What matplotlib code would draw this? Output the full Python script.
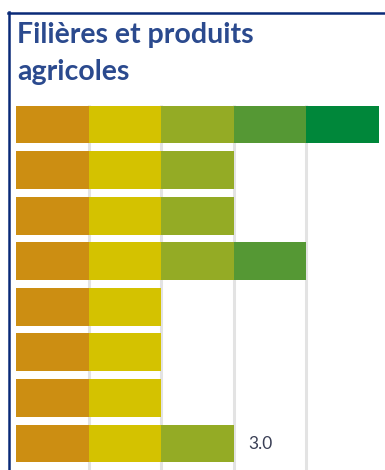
import matplotlib.pyplot as plt
from matplotlib.lines import Line2D

# levels reached per row (each level drawn as a unit-wide segment)
rows = ['r1', 'r2', 'r3', 'r4', 'r5', 'r6', 'r7', 'r8']
values = [5, 3, 3, 4, 2, 2, 2, 3]
value_labels = [None, None, None, None, None, None, None, '3.0']
level_colors = ['#CC8E12', '#D4C200', '#94AB25', '#559834', '#00873A']

title = 'Filières et produits\nagricoles'

W, H = 385, 470
fig = plt.figure(figsize=(W / 100, H / 100), dpi=100)

# axes placed in pixels: left edge of bars at x=16, 1 unit ~ 72.6 px
x0, x1 = 16, 385
y_top, y_bot = 100, 470
ax = fig.add_axes([x0 / W, 1 - y_bot / H, (x1 - x0) / W, (y_bot - y_top) / H])
unit = 72.6
ax.set_xlim(0, (x1 - x0) / unit)
ax.set_ylim(7.58, -0.537)

# light vertical grid lines
ax.vlines([1, 2, 3, 4], -0.42, 7.58, color='#E3E3E3', linewidth=2.2, zorder=0)

for i, v in enumerate(values):
    for k in range(v):
        ax.barh(i, 1, left=k, height=0.83, color=level_colors[k],
                edgecolor='none', zorder=2)
    if value_labels[i]:
        ax.text(v + 0.2, i, value_labels[i], va='center', ha='left',
                fontsize=12.5, color='#3A3F55', family='Lato')

ax.axis('off')

# dark blue frame (top and left edges)
fig.add_artist(Line2D([8.5 / W, 8.5 / W], [0, 1 - 12 / H], color='#0A2A78', linewidth=1.8))
fig.add_artist(Line2D([8 / W, 1], [1 - 12.5 / H, 1 - 12.5 / H], color='#0A2A78', linewidth=1.8))

fig.text(17 / W, 1 - 43 / H, 'Filières et produits', ha='left', va='baseline',
         fontsize=20.5, fontweight='bold', color='#2B4A8E', family='Lato')
fig.text(17 / W, 1 - 80 / H, 'agricoles', ha='left', va='baseline',
         fontsize=20.5, fontweight='bold', color='#2B4A8E', family='Lato')

fig.savefig('out.png', dpi=100)
